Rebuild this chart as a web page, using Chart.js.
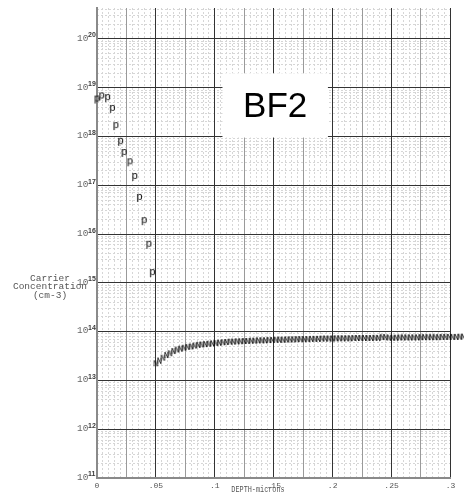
<!DOCTYPE html>
<html>
<head>
<meta charset="utf-8">
<script src="https://cdn.jsdelivr.net/npm/chart.js@4/dist/chart.umd.min.js"></script>
<style>
  html, body { margin: 0; padding: 0; background: #fff; }
  #wrap { position: relative; width: 464px; height: 497px; }
</style>
</head>
<body>
<div id="wrap"><canvas id="c"></canvas></div>
<script>
// Boron (p-type) carrier profile near the surface, depth in microns
const pDepth = [0.000, 0.004, 0.009, 0.013, 0.016, 0.020, 0.023, 0.028, 0.032, 0.036, 0.040, 0.044, 0.047];
const pConc  = [5.6e18, 6.5e18, 6.0e18, 3.6e18, 1.6e18, 7.6e17, 4.5e17, 2.9e17, 1.45e17, 5.4e16, 1.8e16, 5.9e15, 1.55e15];

// Background (n-type) carriers beyond the junction
const nDepth = [
  0.050, 0.053, 0.056, 0.059, 0.062, 0.065, 0.068, 0.071, 0.074, 0.077,
  0.080, 0.083, 0.086, 0.089, 0.092, 0.095, 0.098, 0.101, 0.104, 0.107,
  0.110, 0.113, 0.116, 0.119, 0.122, 0.125, 0.128, 0.131, 0.134, 0.137,
  0.140, 0.143, 0.146, 0.149, 0.152, 0.155, 0.158, 0.161, 0.164, 0.167,
  0.170, 0.173, 0.176, 0.179, 0.182, 0.185, 0.188, 0.191, 0.194, 0.197,
  0.200, 0.203, 0.206, 0.209, 0.212, 0.215, 0.218, 0.221, 0.224, 0.227,
  0.230, 0.233, 0.236, 0.239, 0.242, 0.245, 0.248, 0.251, 0.254, 0.257,
  0.260, 0.263, 0.266, 0.269, 0.272, 0.275, 0.278, 0.281, 0.284, 0.287,
  0.290, 0.293, 0.296, 0.299, 0.302, 0.305, 0.308, 0.311
];
const nConc = [
  2.3e13, 2.6e13, 3.0e13, 3.4e13, 3.7e13, 4.1e13, 4.4e13, 4.6e13, 4.8e13, 5.0e13,
  5.1e13, 5.3e13, 5.5e13, 5.6e13, 5.7e13, 5.8e13, 5.9e13, 6.0e13, 6.1e13, 6.2e13,
  6.3e13, 6.4e13, 6.4e13, 6.5e13, 6.5e13, 6.6e13, 6.6e13, 6.7e13, 6.7e13, 6.8e13,
  6.8e13, 6.8e13, 6.9e13, 6.9e13, 7.0e13, 7.0e13, 7.0e13, 7.1e13, 7.1e13, 7.1e13,
  7.2e13, 7.2e13, 7.2e13, 7.2e13, 7.3e13, 7.3e13, 7.3e13, 7.4e13, 7.4e13, 7.4e13,
  7.4e13, 7.5e13, 7.5e13, 7.5e13, 7.5e13, 7.5e13, 7.6e13, 7.6e13, 7.6e13, 7.6e13,
  7.6e13, 7.6e13, 7.7e13, 7.6e13, 8.0e13, 7.9e13, 7.7e13, 7.7e13, 7.7e13, 7.8e13,
  7.8e13, 7.8e13, 7.8e13, 7.8e13, 7.8e13, 7.9e13, 7.9e13, 7.9e13, 7.9e13, 7.9e13,
  7.9e13, 8.0e13, 8.0e13, 8.0e13, 8.0e13, 8.0e13, 8.1e13, 8.1e13
];

// Axis ticks and labels
const xGridValues  = [0, 0.025, 0.05, 0.075, 0.1, 0.125, 0.15, 0.175, 0.2, 0.225, 0.25, 0.275, 0.3];
const xLabelValues = [0, 0.05, 0.1, 0.15, 0.2, 0.25, 0.3];
const xLabelText   = ['0', '.05', '.1', '.15', '.2', '.25', '.3'];
const yDecades     = [11, 12, 13, 14, 15, 16, 17, 18, 19, 20];
const yLabelBase   = '10';

const X_MAX = 0.3115;
const Y_MIN = 1e11;
const Y_MAX = 4.32e20;

const MONO = '"Liberation Mono", "DejaVu Sans Mono", monospace';
const SANS = '"Liberation Sans", Arial, sans-serif';

// Character markers used as point styles
function glyph(ch, font, w, h, lift, color) {
  const cv = document.createElement('canvas');
  cv.width = w; cv.height = h;
  const g = cv.getContext('2d');
  g.font = font;
  g.fillStyle = color;
  g.textAlign = 'center';
  g.textBaseline = 'alphabetic';
  g.fillText(ch, w / 2, h / 2 + lift);
  return cv;
}
const pMark = glyph('p', '11px ' + MONO, 9, 13, 1.8, '#000000');
const nMark = glyph('N', '9px ' + MONO, 9, 11, 3.0, '#000000');

// Fine grid positions between the labelled lines
const xMinorGrid = [];
for (let i = 0; i <= 60; i++) xMinorGrid.push(Math.round(i * 5) / 1000);
const yMinorGrid = [];
for (let e = yDecades[0]; e <= yDecades[yDecades.length - 1]; e++) {
  for (let m = 1; m <= 9; m++) {
    const v = m * Math.pow(10, e);
    if (v <= Y_MAX) yMinorGrid.push(v);
  }
}

const decorations = {
  id: 'decorations',
  beforeDatasetsDraw(chart) {
    const { ctx, chartArea, scales: { x, y } } = chart;
    ctx.save();
    ctx.fillStyle = '#ffffff';
    // blank strip to the right of the last depth gridline
    const xr = Math.round(x.getPixelForValue(0.3)) + 1;
    ctx.fillRect(xr, 0, chart.width - xr, chartArea.bottom + 2);
    // implant species label
    const l = x.getPixelForValue(0.1065), r = x.getPixelForValue(0.196);
    const t = y.getPixelForValue(1.98e19), b = y.getPixelForValue(9.55e17);
    ctx.fillRect(l, t, r - l, b - t);
    ctx.fillStyle = '#000000';
    ctx.font = '35px ' + SANS;
    ctx.textAlign = 'center';
    ctx.textBaseline = 'middle';
    ctx.fillText('BF2', (l + r) / 2, (t + b) / 2 + 2);
    ctx.restore();
  },
  afterDraw(chart) {
    const { ctx, scales: { y } } = chart;
    ctx.save();
    // decade labels with raised exponents
    yDecades.forEach(e => {
      const py = y.getPixelForValue(Math.pow(10, e));
      ctx.textAlign = 'left';
      ctx.textBaseline = 'alphabetic';
      ctx.fillStyle = '#666666';
      ctx.font = '9.4px ' + MONO;
      ctx.fillText(yLabelBase, 77, py + 1.8);
      ctx.fillStyle = '#3a3a3a';
      ctx.font = 'bold 7px ' + SANS;
      ctx.fillText(String(e), 88, py - 1.6);
    });
    // axis titles
    ctx.fillStyle = '#555555';
    ctx.textAlign = 'center';
    ctx.textBaseline = 'middle';
    ctx.font = '9.5px ' + MONO;
    ['Carrier', 'Concentration', '(cm-3)'].forEach((s, i) => ctx.fillText(s, 50, 278 + i * 8.7));
    ctx.translate(258, 490);
    ctx.scale(0.76, 1);
    ctx.font = '9px ' + MONO;
    ctx.fillText('DEPTH-microns', 0, 0);
    ctx.restore();
  }
};

new Chart(document.getElementById('c'), {
  type: 'scatter',
  data: {
    datasets: [
      {
        data: pDepth.map((d, i) => ({ x: d, y: pConc[i] })),
        pointStyle: pMark,
        clip: false
      },
      {
        data: nDepth.map((d, i) => ({ x: d, y: nConc[i] })),
        pointStyle: nMark,
        clip: false
      }
    ]
  },
  options: {
    responsive: true,
    maintainAspectRatio: false,
    animation: false,
    events: [],
    layout: { autoPadding: false, padding: { top: 8, right: 0, left: 0, bottom: 0 } },
    plugins: { legend: { display: false }, tooltip: { enabled: false } },
    scales: {
      xFine: {
        type: 'linear', position: 'bottom', min: 0, max: X_MAX, display: true,
        afterBuildTicks: s => { s.ticks = xMinorGrid.map(v => ({ value: v })); },
        afterFit: s => { s.height = 0; s.paddingLeft = 0; s.paddingRight = 0; },
        grid: { color: '#d6d6d6', lineWidth: 1, drawTicks: false, z: -2 },
        border: { display: false, dash: [2, 2] },
        ticks: { display: false }
      },
      yFine: {
        type: 'logarithmic', position: 'left', min: Y_MIN, max: Y_MAX, display: true,
        afterBuildTicks: s => { s.ticks = yMinorGrid.map(v => ({ value: v })); },
        afterFit: s => { s.width = 0; s.paddingTop = 0; s.paddingBottom = 0; },
        grid: { color: '#d6d6d6', lineWidth: 1, drawTicks: false, z: -2 },
        border: { display: false, dash: [2, 2] },
        ticks: { display: false }
      },
      x: {
        type: 'linear', position: 'bottom', min: 0, max: X_MAX,
        afterBuildTicks: s => { s.ticks = xGridValues.map(v => ({ value: v })); },
        afterFit: s => { s.height = 19; s.paddingLeft = 0; s.paddingRight = 0; },
        grid: {
          drawTicks: false,
          lineWidth: 1,
          color: c => (Math.round(c.tick.value * 1000) % 50 === 0 ? '#333333' : '#9a9a9a')
        },
        border: { display: true, color: '#8a8a8a', width: 2 },
        ticks: {
          autoSkip: false, maxRotation: 0, padding: 3, color: '#555555',
          font: { family: MONO, size: 8 },
          callback: v => {
            const k = xLabelValues.findIndex(t => Math.abs(t - v) < 1e-9);
            return k >= 0 ? xLabelText[k] : '';
          }
        }
      },
      y: {
        type: 'logarithmic', position: 'left', min: Y_MIN, max: Y_MAX,
        afterBuildTicks: s => { s.ticks = yDecades.map(e => ({ value: Math.pow(10, e) })); },
        afterFit: s => { s.width = 97; s.paddingTop = 0; s.paddingBottom = 0; },
        grid: { drawTicks: false, lineWidth: 1, color: '#333333' },
        border: { display: true, color: '#8a8a8a', width: 2 },
        ticks: { display: false }
      }
    }
  },
  plugins: [decorations]
});
</script>
</body>
</html>
